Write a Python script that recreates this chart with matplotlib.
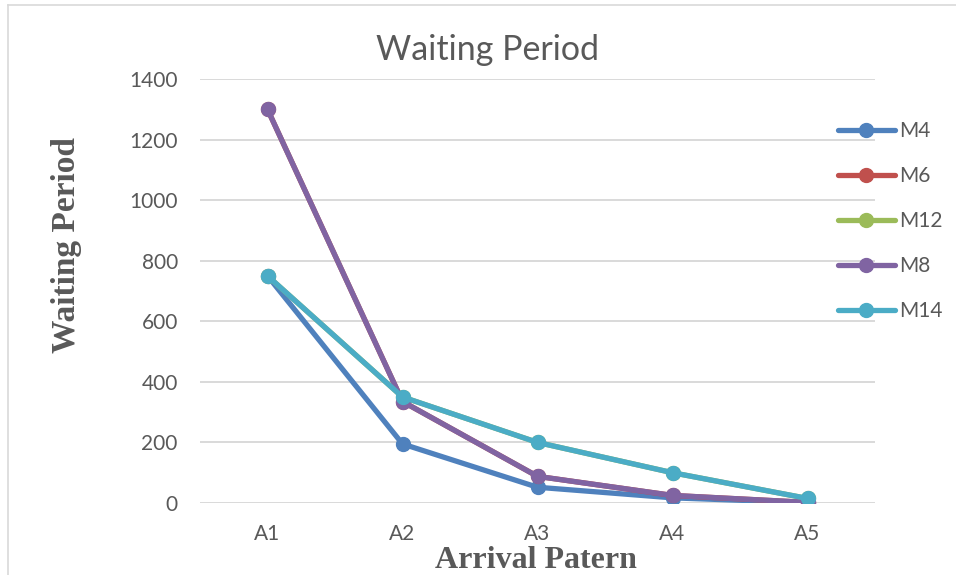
import matplotlib.pyplot as plt
from matplotlib.lines import Line2D

# arrival patterns on the x axis
patterns = ["A1", "A2", "A3", "A4", "A5"]

# waiting period per model
m4 = [750, 195, 52, 17, 1]
m6 = [1300, 335, 88, 25, 2]
m12 = [750, 350, 200, 100, 15]
m8 = [1300, 335, 88, 25, 2]
m14 = [750, 350, 200, 100, 15]

series = [
    ("M4", m4, "#4F81BD"),
    ("M6", m6, "#C0504D"),
    ("M12", m12, "#9BBB59"),
    ("M8", m8, "#8064A2"),
    ("M14", m14, "#4BACC6"),
]

text_grey = "#595959"
plt.rcParams["font.family"] = ["Lato", "DejaVu Sans"]

fig = plt.figure(figsize=(9.56, 5.75), dpi=100)
ax = fig.add_axes([200 / 956, 72 / 575, 675 / 956, 424 / 575])

x = list(range(len(patterns)))
for name, values, color in series:
    ax.plot(x, values, color=color, linewidth=3.8, marker="o",
            markersize=10, label=name, solid_capstyle="round")

ax.set_xlim(-0.5, len(patterns) - 0.5)
ax.set_ylim(0, 1400)
ax.set_yticks(range(0, 1401, 200))
ax.set_xticks(x)
ax.set_xticklabels(patterns)
ax.yaxis.grid(True, color="#D9D9D9", linewidth=1.4)
ax.set_axisbelow(True)
for side in ["top", "right", "left", "bottom"]:
    ax.spines[side].set_visible(False)
ax.tick_params(axis="both", length=0, labelsize=15, colors=text_grey)
ax.tick_params(axis="y", pad=16)
ax.tick_params(axis="x", pad=15)

fig.text(487 / 956, 1 - 50 / 575, "Waiting Period", ha="center", va="center",
         fontsize=24.5, color=text_grey)
fig.text(67 / 956, 1 - 245 / 575, "Waiting Period", rotation=90, ha="center",
         va="center", fontsize=24, fontweight="bold", color=text_grey,
         family="Liberation Serif")
fig.text(536 / 956, 1 - 560 / 575, "Arrival Patern", ha="center", va="center",
         fontsize=23, fontweight="bold", color=text_grey,
         family="Liberation Serif")

leg = fig.legend(loc="upper left", bbox_to_anchor=(830 / 956, 1 - 113 / 575),
                 frameon=False, fontsize=15, handlelength=2.7,
                 handletextpad=0.2, labelspacing=1.2, borderaxespad=0)
for t in leg.get_texts():
    t.set_color(text_grey)

# light chart frame along the left and top edges
fig.add_artist(Line2D([8 / 956, 8 / 956], [0, 1 - 5 / 575], color="#D9D9D9",
                      linewidth=1.2, transform=fig.transFigure))
fig.add_artist(Line2D([8 / 956, 1], [1 - 5 / 575, 1 - 5 / 575], color="#D9D9D9",
                      linewidth=1.2, transform=fig.transFigure))

fig.savefig("out.png", dpi=100, facecolor="white")
